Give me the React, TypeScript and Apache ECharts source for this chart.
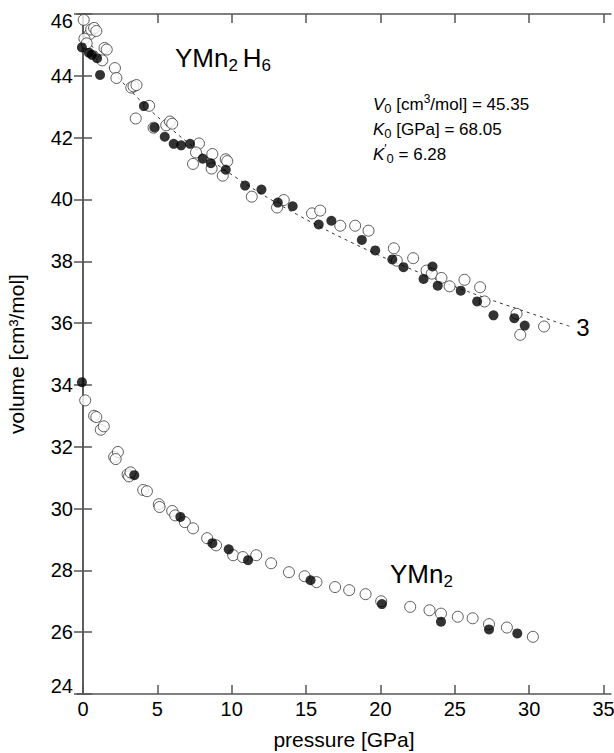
import React, { useEffect, useRef } from 'react';
import * as echarts from 'echarts';

const FONT = "'Liberation Sans', Arial, sans-serif";

const xTickValues = [0, 5, 10, 15, 20, 25, 30, 35];

// YMn2H6 – open symbols
const h6Open: number[][] = [
  [0.05, 45.81], [0.45, 45.35], [0.55, 45.5], [0.75, 45.55], [0.9, 45.45], [0.1, 45.2], [0.25, 45.05],
  [1.45, 44.9], [1.6, 44.85], [1.3, 44.5], [2.15, 44.25], [2.25, 43.93], [3.25, 43.62], [3.4, 43.66],
  [3.6, 43.7], [4.45, 43.03], [3.55, 42.62], [5.6, 42.4], [5.85, 42.52], [6.0, 42.45], [4.75, 42.32],
  [7.8, 41.81], [7.6, 41.52], [7.4, 41.15], [8.7, 41.47], [9.6, 41.3], [9.7, 41.24], [9.4, 40.77],
  [8.65, 41.0], [11.35, 40.09], [13.5, 39.98], [13.05, 39.74], [15.4, 39.55], [15.95, 39.64],
  [17.3, 39.15], [18.3, 39.15], [19.2, 38.99], [20.9, 38.42], [21.1, 38.02], [22.2, 38.1],
  [23.1, 37.7], [23.45, 37.6], [24.1, 37.46], [24.65, 37.19], [25.65, 37.4], [26.7, 37.16],
  [27.0, 36.7], [29.15, 36.3], [29.4, 35.62], [31.0, 35.89],
];

// YMn2H6 – filled symbols
const h6Filled: number[][] = [
  [-0.07, 44.92], [0.4, 44.75], [0.6, 44.68], [0.95, 44.57], [1.15, 44.03], [4.1, 43.02], [4.8, 42.33],
  [5.5, 42.03], [6.1, 41.8], [6.6, 41.75], [7.2, 41.8], [8.05, 41.32], [8.6, 41.17], [9.6, 40.96],
  [10.9, 40.45], [12.0, 40.32], [13.1, 39.9], [14.1, 39.78], [15.85, 39.19], [16.7, 39.31],
  [18.75, 38.69], [19.65, 38.35], [20.8, 38.06], [21.55, 37.81], [22.9, 37.43], [23.5, 37.83],
  [23.85, 37.21], [25.4, 37.05], [26.5, 36.7], [27.6, 36.25], [29.0, 36.16], [29.7, 35.92],
];

// YMn2 – open symbols
const mn2Open: number[][] = [
  [0.15, 33.5], [0.75, 33.0], [0.9, 32.96], [1.2, 32.55], [1.4, 32.66], [2.1, 31.67], [2.35, 31.83],
  [2.2, 31.6], [3.0, 31.1], [3.1, 31.04], [3.2, 31.17], [4.05, 30.6], [4.3, 30.56], [5.1, 30.14],
  [5.15, 30.05], [6.0, 29.92], [6.2, 29.78], [6.85, 29.56], [7.4, 29.36], [8.35, 29.04], [8.95, 28.81],
  [10.1, 28.49], [10.75, 28.43], [11.65, 28.49], [12.65, 28.23], [13.85, 27.94], [14.9, 27.81],
  [15.7, 27.62], [16.95, 27.46], [17.9, 27.36], [19.0, 27.23], [20.05, 27.0], [22.0, 26.82],
  [23.3, 26.71], [24.07, 26.6], [25.2, 26.5], [26.2, 26.45], [27.3, 26.26], [28.5, 26.15], [30.25, 25.85],
];

// YMn2 – filled symbols
const mn2Filled: number[][] = [
  [-0.07, 34.09], [3.45, 31.08], [6.55, 29.73], [8.7, 28.88], [9.8, 28.68], [11.1, 28.33],
  [15.3, 27.68], [20.1, 26.91], [24.07, 26.34], [27.3, 26.09], [29.2, 25.96],
];

// EOS fit curve (dashed)
const fitCurve: number[][] = [
  [0, 45.35], [0.54, 45.0], [2.26, 44.0], [4.28, 43.0], [6.64, 42.0], [9.4, 41.0], [12.62, 40.0],
  [16.4, 39.0], [20.81, 38.0], [25.99, 37.0], [32.05, 36.0], [32.7, 35.9],
];

export default function App() {
  const ref = useRef<HTMLDivElement>(null);

  useEffect(() => {
    const chart = echarts.init(ref.current!, null, { renderer: 'svg' });
    const axisColor = '#555';
    const lineStyle = { color: axisColor, width: 1.5 };

    const sub = (size: number, pad: number) => ({ fontSize: size, fontFamily: FONT, fill: '#000', padding: [pad, 0, 0, 0] });
    const sup = (size: number, pad: number) => ({ fontSize: size, fontFamily: FONT, fill: '#000', padding: [0, 0, pad, 0] });
    const statRich = {
      i: { fontSize: 17, fontFamily: FONT, fontStyle: 'italic', fill: '#000' },
      n: { fontSize: 17, fontFamily: FONT, fill: '#000' },
      s: sub(13, 9),
      p: sup(12, 11),
    };

    chart.setOption({
      animation: false,
      backgroundColor: '#fff',
      textStyle: { fontFamily: FONT },
      grid: { left: 77, right: 3, top: 14, bottom: 59, containLabel: false, outerBoundsMode: 'none' },
      xAxis: [
        {
          type: 'value', position: 'bottom', min: -0.4, max: 35.5,
          axisLine: { show: true, lineStyle },
          axisTick: { show: true, inside: true, length: 9, customValues: xTickValues, lineStyle },
          axisLabel: { customValues: xTickValues, fontSize: 20, color: '#000', margin: 5, fontFamily: FONT },
          splitLine: { show: false },
          name: 'pressure [GPa]', nameLocation: 'middle', nameGap: 35,
          nameTextStyle: { fontSize: 21, color: '#000', fontFamily: FONT },
        },
        {
          type: 'value', position: 'top', min: -0.4, max: 35.5,
          axisLine: { show: true, lineStyle },
          axisTick: { show: true, inside: true, length: 9, customValues: xTickValues, lineStyle },
          axisLabel: { show: false },
          splitLine: { show: false },
        },
      ],
      yAxis: [
        {
          type: 'value', position: 'left', min: 24, max: 46, interval: 2,
          axisLine: { show: true, lineStyle },
          axisTick: { show: true, inside: true, length: 9, lineStyle },
          axisLabel: {
            fontSize: 20, color: '#000', margin: 4, fontFamily: FONT,
            formatter: (v: number) => (v === 46 ? '{t|46}' : v === 24 ? '{b|24}' : '{n|' + v + '}'),
            rich: {
              n: { fontSize: 20, fontFamily: FONT, color: '#000' },
              t: { fontSize: 20, fontFamily: FONT, color: '#000', padding: [14, 0, 0, 0] },
              b: { fontSize: 20, fontFamily: FONT, color: '#000', padding: [0, 0, 16, 0] },
            },
          },
          splitLine: { show: false },
          name: 'volume [cm³/mol]', nameLocation: 'middle', nameGap: 50, nameRotate: 90,
          nameTextStyle: { fontSize: 21, color: '#000', fontFamily: FONT },
        },
        {
          type: 'value', position: 'right', min: 24, max: 46, interval: 2,
          axisLine: { show: true, lineStyle },
          axisTick: { show: true, inside: true, length: 9, lineStyle },
          axisLabel: { show: false },
          splitLine: { show: false },
        },
      ],
      series: [
        {
          type: 'line', data: fitCurve, smooth: 0.3, symbol: 'none', xAxisIndex: 0, yAxisIndex: 0,
          lineStyle: { color: '#333', width: 1, type: [3, 4] }, silent: true, z: 1,
        },
        {
          type: 'scatter', data: h6Open, symbol: 'circle', symbolSize: 11, xAxisIndex: 0, yAxisIndex: 0,
          itemStyle: { color: '#fff', borderColor: '#333', borderWidth: 1 }, z: 2,
        },
        {
          type: 'scatter', data: mn2Open, symbol: 'circle', symbolSize: 11, xAxisIndex: 0, yAxisIndex: 0,
          itemStyle: { color: '#fff', borderColor: '#333', borderWidth: 1 }, z: 2,
        },
        {
          type: 'scatter', data: h6Filled, symbol: 'circle', symbolSize: 10, xAxisIndex: 0, yAxisIndex: 0,
          itemStyle: { color: '#000' }, z: 3,
        },
        {
          type: 'scatter', data: mn2Filled, symbol: 'circle', symbolSize: 10, xAxisIndex: 0, yAxisIndex: 0,
          itemStyle: { color: '#000' }, z: 3,
        },
      ],
      graphic: [
        {
          type: 'text', x: 175, y: 58,
          style: {
            text: '{b|YMn}{s|2 }{b|H}{s|6}', verticalAlign: 'middle', align: 'left',
            rich: { b: { fontSize: 26, fontFamily: FONT, fill: '#000' }, s: sub(17, 14) },
          },
        },
        {
          type: 'text', x: 390, y: 574,
          style: {
            text: '{b|YMn}{s|2}', verticalAlign: 'middle', align: 'left',
            rich: { b: { fontSize: 26, fontFamily: FONT, fill: '#000' }, s: sub(17, 14) },
          },
        },
        {
          type: 'text', x: 583, y: 327,
          style: { text: '3', fontSize: 24, fontFamily: FONT, fill: '#000', align: 'center', verticalAlign: 'middle' },
        },
        {
          type: 'text', x: 373, y: 104,
          style: {
            text: '{i|V}{s|0}{n| [cm}{p|3}{n|/mol] = 45.35}', verticalAlign: 'middle', align: 'left',
            rich: statRich,
          },
        },
        {
          type: 'text', x: 373, y: 129,
          style: {
            text: '{i|K}{s|0}{n| [GPa] = 68.05}', verticalAlign: 'middle', align: 'left',
            rich: statRich,
          },
        },
        {
          type: 'text', x: 373, y: 154,
          style: {
            text: '{i|K}{p|′}{s|0}{n| = 6.28}', verticalAlign: 'middle', align: 'left',
            rich: statRich,
          },
        },
      ],
    });
    return () => chart.dispose();
  }, []);

  return (
    <div
      ref={ref}
      style={{ position: 'absolute', left: 0, top: 0, width: 614, height: 753, background: '#fff' }}
    />
  );
}
